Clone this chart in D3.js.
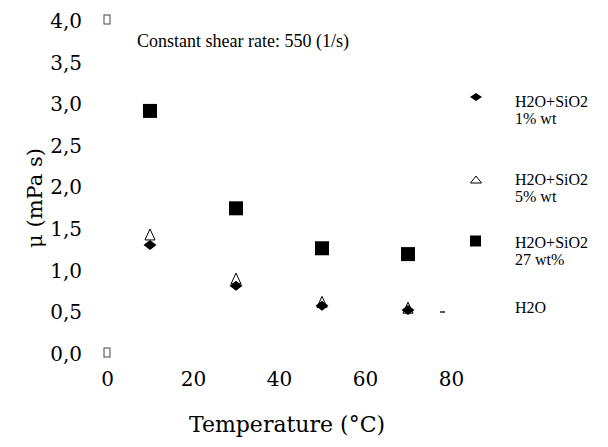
<!DOCTYPE html>
<html>
    <head>
        <script src="https://d3js.org/d3.v7.min.js"></script>
        <style>
          body { margin: 0; background: #ffffff; }
          #chart { width: 608px; height: 447px; position: relative; }
          text { font-family: "DejaVu Serif", serif; fill: #000000; }
          .txt { font-family: "Liberation Serif", serif; }
        </style>
    </head>
    <body>
        <div id="chart"></div>
        <script>

            /* DATA */
            var temps = [10, 30, 50, 70];
            var sio2_1 = [1.31, 0.82, 0.58, 0.53];
            var sio2_5 = [1.43, 0.90, 0.62, 0.55];
            var sio2_27 = [2.92, 1.75, 1.27, 1.20];
            var water_edges = [4.0, 0.0];   // stray marks drawn at T = 0

            var xTicks = [0, 20, 40, 60, 80];
            var yTicks = [0, 0.5, 1, 1.5, 2, 2.5, 3, 3.5, 4];

            var legendLabels = [
                ["H2O+SiO2", "1% wt"],
                ["H2O+SiO2", "5% wt"],
                ["H2O+SiO2", "27 wt%"],
                ["H2O"]
            ];

            /* SVG */
            var width = 608, height = 447;
            var svg = d3.select("#chart")
                .append("svg")
                .attr("width", width)
                .attr("height", height);

            var x = d3.scaleLinear().domain([0, 80]).range([107, 451]);
            var y = d3.scaleLinear().domain([0, 4]).range([354, 21]);

            /* AXES - labels only, no lines */
            var fmt = function(d) { return d3.format(".1f")(d).replace(".", ","); };

            var yAxis = svg.append("g")
                .attr("transform", "translate(82,0)")
                .call(d3.axisLeft(y).tickValues(yTicks).tickFormat(fmt).tickSize(0).tickPadding(0));
            yAxis.select(".domain").remove();
            yAxis.selectAll("text")
                .style("font-family", "DejaVu Serif")
                .style("font-size", "20px")
                .attr("fill", "#000");

            var xAxis = svg.append("g")
                .attr("transform", "translate(0,372)")
                .call(d3.axisBottom(x).tickValues(xTicks).tickFormat(d3.format("d")).tickSize(0).tickPadding(0));
            xAxis.select(".domain").remove();
            xAxis.selectAll("text")
                .style("font-family", "DejaVu Serif")
                .style("font-size", "20px")
                .attr("fill", "#000");

            svg.append("text")
                .attr("x", 287)
                .attr("y", 432)
                .attr("text-anchor", "middle")
                .style("font-size", "22px")
                .text("Temperature (°C)");

            svg.append("text")
                .attr("transform", "translate(42,198) rotate(-90)")
                .attr("text-anchor", "middle")
                .style("font-size", "21px")
                .text("μ (mPa s)");

            svg.append("text")
                .attr("class", "txt")
                .attr("x", 137)
                .attr("y", 47)
                .style("font-size", "18px")
                .text("Constant shear rate: 550 (1/s)");

            /* MARKERS */
            var diamond = "M0,-5L6.5,0L0,5L-6.5,0Z";
            var triangle = "M0,-6L5,5L-5,5Z";

            // 27 wt% squares
            svg.append("g")
                .selectAll("rect")
                .data(temps)
                .enter()
                .append("rect")
                    .attr("x", function(d) { return x(d) - 7; })
                    .attr("y", function(d, i) { return y(sio2_27[i]) - 7; })
                    .attr("width", 14)
                    .attr("height", 14)
                    .attr("fill", "#000");

            // 1% wt diamonds
            svg.append("g")
                .selectAll("path")
                .data(temps)
                .enter()
                .append("path")
                    .attr("d", diamond)
                    .attr("transform", function(d, i) { return "translate(" + x(d) + "," + y(sio2_1[i]) + ")"; })
                    .attr("fill", "#000");

            // 5% wt triangles
            svg.append("g")
                .selectAll("path")
                .data(temps)
                .enter()
                .append("path")
                    .attr("d", triangle)
                    .attr("transform", function(d, i) { return "translate(" + x(d) + "," + y(sio2_5[i]) + ")"; })
                    .attr("fill", "none")
                    .attr("stroke", "#000")
                    .attr("stroke-width", 1);

            // small marks at T = 0
            svg.append("g")
                .selectAll("rect")
                .data(water_edges)
                .enter()
                .append("rect")
                    .attr("x", x(0) - 3)
                    .attr("y", function(d) { return y(d) - 6; })
                    .attr("width", 6)
                    .attr("height", 9)
                    .attr("fill", "none")
                    .attr("stroke", "#444")
                    .attr("stroke-width", 1);

            /* LEGEND */
            var legendY = [97, 180, 241, 309];
            var legendBase = [107, 185, 248, 313];
            var legend = svg.append("g");

            legend.append("path").attr("d", "M0,-4L6,0L0,4L-6,0Z")
                .attr("transform", "translate(476," + legendY[0] + ")").attr("fill", "#000");
            legend.append("path").attr("d", "M0,-4L5.5,3L-5.5,3Z")
                .attr("transform", "translate(476," + legendY[1] + ")")
                .attr("fill", "none").attr("stroke", "#000").attr("stroke-width", 1);
            legend.append("rect").attr("x", 470).attr("y", legendY[2] - 5.5)
                .attr("width", 11).attr("height", 11).attr("fill", "#000");
            legend.append("rect").attr("x", 440).attr("y", legendY[3] + 2)
                .attr("width", 5).attr("height", 2).attr("fill", "#555");

            legendLabels.forEach(function(lines, i) {
                var t = legend.append("text")
                    .attr("class", "txt")
                    .attr("x", 515)
                    .attr("y", legendBase[i])
                    .style("font-size", "16px");
                lines.forEach(function(l, j) {
                    t.append("tspan").attr("x", 515).attr("dy", j === 0 ? 0 : 17).text(l);
                });
            });

        </script>
    </body>
</html>
